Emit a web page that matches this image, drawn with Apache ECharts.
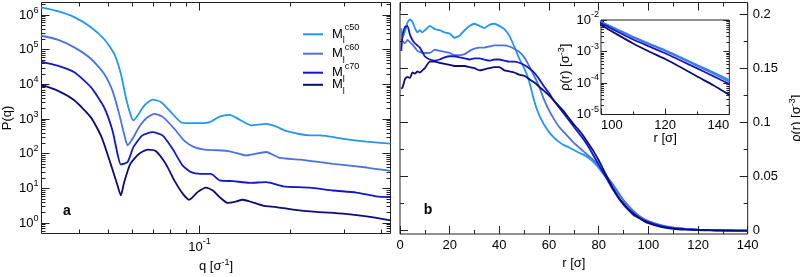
<!DOCTYPE html>
<html><head><meta charset="utf-8">
<script src="https://cdn.jsdelivr.net/npm/echarts@6/dist/echarts.min.js"></script>
<style>html,body{margin:0;padding:0;background:#fff}#c{width:800px;height:277px}</style>
</head><body><div id="c"></div>
<script>
const FONT = "'Liberation Sans', Arial, Helvetica, sans-serif";
const AX = '#222';

// ---------------- panel a : P(q) ----------------
const qC50 = [0.0299,0.0339,0.0385,0.0437,0.0483,0.0522,0.0549,0.0570,0.0590,0.0604,0.0624,0.0656,0.0699,0.0745,0.0804,0.0867,0.0936,0.100,0.108,0.1165,0.1257,0.1357,0.148,0.166,0.1795,0.194,0.2315,0.25,0.2985,0.357,0.428];
const pC50 = [1.66e6,1.29e6,8.7e5,4.47e5,2.04e5,7.6e4,2.04e4,4270,1410,912,1260,2450,3630,3090,1580,813,759,759,813,1175,1318,955,661,724,603,447,339,339,269,224,195];
const qC60 = [0.0299,0.0339,0.0385,0.0437,0.0483,0.0515,0.0542,0.0566,0.0578,0.0600,0.0631,0.0664,0.0708,0.0754,0.0825,0.0889,0.096,0.1036,0.1147,0.1257,0.1428,0.166,0.184,0.2143,0.2764,0.357,0.428];
const pC60 = [2.57e5,1.95e5,1.17e5,5.5e4,2.04e4,6600,1410,302,174,269,589,1020,1410,1175,525,240,155,132,126,117,89,112,76,68,51,40,32];
const qC70 = [0.0299,0.0339,0.0385,0.0437,0.0483,0.0515,0.0535,0.0549,0.0578,0.0604,0.0647,0.0699,0.0754,0.0814,0.0878,0.0936,0.101,0.109,0.1165,0.129,0.1464,0.166,0.1887,0.2315,0.2764,0.33,0.384,0.428];
const pC70 = [4.57e4,3.47e4,2.24e4,8300,2190,468,100,49,58,155,339,417,339,138,46,29.5,26.3,26.3,17,16.2,14.5,15.1,11.5,10.5,8.7,7.6,5.9,5.6];
const qMl = [0.0299,0.0339,0.0385,0.0437,0.0474,0.0508,0.0535,0.0549,0.0563,0.059,0.0631,0.0673,0.0716,0.0773,0.0825,0.0878,0.0924,0.0985,0.105,0.1107,0.1165,0.124,0.1306,0.139,0.148,0.162,0.1795,0.2037,0.2435,0.2985,0.357,0.428];
const pMl = [9800,6600,3470,1120,302,51,12.3,6.3,15.1,51,100,132,120,51,17,7.2,4.7,7.8,10.5,8.7,5.6,3.8,4.1,4.7,4.1,3.2,2.9,2.45,2.1,1.86,1.55,1.2];

// ---------------- panel b : rho(r) ----------------
const rB = [0.5,1,2,3,4,5,6,7,8,9,10,12,14,16,18,20,22,24,26,28,30,32,34,36,38,40,42,44,46,48,50,52,54,56,58,60,62,64,66,68,70,72,74,76,78,80,82,84,86,88,90,92,94,96,98,100,105,110,115,120,125,130,135,140];
const rhoC50 = [0.187,0.178,0.184,0.192,0.195,0.193,0.187,0.183,0.185,0.183,0.185,
  0.189,0.186,0.185,0.183,0.182,0.178,0.180,0.185,0.189,0.191,0.189,0.187,0.190,0.191,0.189,0.186,0.180,0.170,0.159,
  0.150,0.138,0.120,0.107,0.098,0.091,0.086,0.082,0.079,0.077,0.0745,0.072,0.070,0.067,0.063,0.058,0.052,0.046,0.040,0.034,0.028,0.023,0.018,0.014,0.011,0.0088,
  0.0051,0.0029,0.0018,0.0011,0.00064,0.00037,0.00022,0.000125];
const rhoC60 = [0.177,0.175,0.173,0.176,0.174,0.172,0.169,0.166,0.165,0.164,0.164,
  0.164,0.167,0.166,0.165,0.164,0.162,0.162,0.163,0.166,0.168,0.169,0.169,0.170,0.171,0.171,0.171,0.170,0.168,0.165,
  0.160,0.152,0.143,0.133,0.121,0.111,0.103,0.096,0.091,0.086,0.081,0.077,0.073,0.069,0.065,0.060,0.054,0.048,0.042,0.035,0.028,0.0225,0.018,0.014,0.011,0.0086,
  0.0049,0.0028,0.0017,0.00105,0.00061,0.00035,0.0002,0.00011];
const rhoC70 = [0.166,0.180,0.188,0.189,0.181,0.176,0.173,0.171,0.169,0.165,0.161,
  0.158,0.157,0.158,0.160,0.161,0.161,0.160,0.159,0.158,0.159,0.159,0.158,0.157,0.158,0.158,0.157,0.156,0.156,0.155,
  0.153,0.150,0.146,0.140,0.133,0.127,0.120,0.114,0.108,0.102,0.096,0.090,0.084,0.077,0.069,0.061,0.053,0.045,0.037,0.030,0.024,0.019,0.0145,0.012,0.0098,0.0079,
  0.0043,0.0024,0.00145,0.00088,0.00051,0.00029,0.000165,0.000093];
const rhoMl = [0.131,0.132,0.140,0.142,0.141,0.146,0.145,0.147,0.146,0.148,0.150,
  0.156,0.156,0.155,0.154,0.153,0.152,0.152,0.152,0.151,0.150,0.148,0.149,0.150,0.151,0.151,0.148,0.147,0.146,0.144,
  0.143,0.140,0.137,0.133,0.129,0.125,0.120,0.115,0.110,0.104,0.098,0.093,0.087,0.080,0.073,0.065,0.056,0.047,0.038,0.031,0.025,0.020,0.016,0.0125,0.0093,0.0069,
  0.0035,0.0018,0.0010,0.00058,0.00031,0.00016,0.000085,0.000042];

const names = ['Mc50', 'Mc60', 'Mc70', 'Ml'];
const supText = { Mc50: 'c50', Mc60: 'c60', Mc70: 'c70', Ml: '' };
const colors = ['#2196f3', '#4a72e4', '#1218c8', '#0c0c78'];
const bTicks = [0, 0.05, 0.1, 0.15, 0.2];
const bMinor = [0.025, 0.075, 0.125, 0.175];

const zip = (a, b) => a.map((v, i) => [v, b[i]]);
const lg = Math.log10;
function majorLog(lo, hi) { const o = []; for (let e = Math.ceil(lo - 1e-9); e <= Math.floor(hi + 1e-9); e++) o.push(e); return o; }
function minorLog(lo, hi) { const o = []; for (let e = Math.floor(lo) - 1; e <= Math.ceil(hi); e++) for (let k = 2; k <= 9; k++) { const v = e + lg(k); if (v > lo + 1e-9 && v < hi - 1e-9) o.push(v); } return o; }

const supRich = {
  b: { fontSize: 13, fontFamily: FONT, color: '#000', lineHeight: 19 },
  s: { fontSize: 9, fontFamily: FONT, color: '#000', lineHeight: 10, verticalAlign: 'top' }
};
function powLabel(v) {
  const l = lg(v), e = Math.round(l);
  if (Math.abs(l - e) > 1e-6) return '';
  return '{b|10}{s|' + e + '}';
}
const nameRich = {
  a: { fontSize: 13, fontFamily: FONT, color: '#000', lineHeight: 17 },
  s: { fontSize: 9, fontFamily: FONT, color: '#000', lineHeight: 10, verticalAlign: 'top' }
};

function tickAxis(grid, pos, min, max, values, len) {
  return {
    type: 'value', gridIndex: grid, position: pos, min: min, max: max, silent: true,
    axisLine: { show: false, onZero: false }, splitLine: { show: false }, axisLabel: { show: false },
    minorTick: { show: false },
    axisTick: { show: true, inside: true, length: len, customValues: values, lineStyle: { color: AX, width: 1 } }
  };
}

// ranges (layout)
const aX = [lg(0.03), lg(0.428)], aY = [lg(0.5), lg(2.3e6)], iY = [-5, -2];

const xAxis = [
  { type: 'log', gridIndex: 0, min: 0.03, max: 0.428, position: 'bottom',
    axisLine: { show: false, onZero: false }, axisTick: { show: false }, splitLine: { show: false }, minorTick: { show: false },
    axisLabel: { formatter: powLabel, rich: supRich, margin: 4, interval: 0 },
    name: '{a|q [σ}{s|-1}{a|]}', nameLocation: 'middle', nameGap: 22, nameTextStyle: { rich: nameRich } },
  tickAxis(0, 'bottom', aX[0], aX[1], majorLog(aX[0], aX[1]), 8),
  tickAxis(0, 'bottom', aX[0], aX[1], minorLog(aX[0], aX[1]), 4),
  tickAxis(0, 'top', aX[0], aX[1], majorLog(aX[0], aX[1]), 8),
  tickAxis(0, 'top', aX[0], aX[1], minorLog(aX[0], aX[1]), 4),
  { type: 'value', gridIndex: 1, min: 0, max: 140, interval: 20, position: 'bottom',
    axisLine: { show: false, onZero: false }, splitLine: { show: false },
    axisTick: { inside: true, length: 8, lineStyle: { color: AX } },
    minorTick: { show: true, splitNumber: 2, length: 4, lineStyle: { color: AX } },
    axisLabel: { fontSize: 13, fontFamily: FONT, color: '#000', margin: 5 },
    name: 'r [σ]', nameLocation: 'middle', nameGap: 20, nameTextStyle: { fontSize: 13, fontFamily: FONT, color: '#000' } },
  { type: 'value', gridIndex: 1, min: 0, max: 140, interval: 20, position: 'top',
    axisLine: { show: false, onZero: false }, splitLine: { show: false }, axisLabel: { show: false },
    axisTick: { inside: true, length: 8, lineStyle: { color: AX } },
    minorTick: { show: true, splitNumber: 2, length: 4, lineStyle: { color: AX } } },
  { type: 'value', gridIndex: 2, min: 100, max: 140, interval: 20, position: 'bottom',
    axisLine: { show: false, onZero: false }, splitLine: { show: false },
    axisTick: { inside: true, length: 6, lineStyle: { color: AX } },
    minorTick: { show: true, splitNumber: 2, length: 3, lineStyle: { color: AX } },
    axisLabel: { fontSize: 13, fontFamily: FONT, color: '#000', margin: 4, alignMinLabel: 'left', alignMaxLabel: 'right' },
    name: 'r [σ]', nameLocation: 'middle', nameGap: 17, nameTextStyle: { fontSize: 13, fontFamily: FONT, color: '#000' } }
];

const yAxis = [
  { type: 'log', gridIndex: 0, min: 0.5, max: 2.3e6, position: 'left',
    axisLine: { show: false, onZero: false }, axisTick: { show: false }, splitLine: { show: false }, minorTick: { show: false },
    axisLabel: { formatter: powLabel, rich: supRich, margin: 3, interval: 0 },
    name: 'P(q)', nameLocation: 'middle', nameGap: 28, nameRotate: 90,
    nameTextStyle: { fontSize: 13, fontFamily: FONT, color: '#000' } },
  tickAxis(0, 'left', aY[0], aY[1], majorLog(aY[0], aY[1]), 8),
  tickAxis(0, 'left', aY[0], aY[1], minorLog(aY[0], aY[1]), 4),
  tickAxis(0, 'right', aY[0], aY[1], majorLog(aY[0], aY[1]), 8),
  tickAxis(0, 'right', aY[0], aY[1], minorLog(aY[0], aY[1]), 4),
  { type: 'value', gridIndex: 1, min: -0.003, max: 0.2106, position: 'right',
    axisLine: { show: false, onZero: false }, splitLine: { show: false }, minorTick: { show: false },
    axisTick: { inside: true, length: 8, customValues: bTicks, lineStyle: { color: AX } },
    axisLabel: { customValues: bTicks, fontSize: 13, fontFamily: FONT, color: '#000', margin: 5 },
    name: '{a|ρ(r) [σ}{s|-3}{a|]}', nameLocation: 'middle', nameGap: 40, nameRotate: 90, nameTextStyle: { rich: nameRich } },
  tickAxis(1, 'right', -0.003, 0.2106, bMinor, 4),
  tickAxis(1, 'left', -0.003, 0.2106, bTicks, 8),
  tickAxis(1, 'left', -0.003, 0.2106, bMinor, 4),
  { type: 'log', gridIndex: 2, min: 1e-5, max: 1e-2, position: 'left',
    axisLine: { show: false, onZero: false }, axisTick: { show: false }, splitLine: { show: false }, minorTick: { show: false },
    axisLabel: { formatter: powLabel, rich: supRich, margin: 2, interval: 0 },
    name: '{a|ρ(r) [σ}{s|-3}{a|]}', nameLocation: 'middle', nameGap: 27, nameRotate: 90, nameTextStyle: { rich: nameRich } },
  tickAxis(2, 'left', iY[0], iY[1], majorLog(iY[0], iY[1]), 6),
  tickAxis(2, 'left', iY[0], iY[1], minorLog(iY[0], iY[1]), 3),
  tickAxis(2, 'right', iY[0], iY[1], majorLog(iY[0], iY[1]), 6),
  tickAxis(2, 'right', iY[0], iY[1], minorLog(iY[0], iY[1]), 3)
];

const aData = [zip(qC50, pC50), zip(qC60, pC60), zip(qC70, pC70), zip(qMl, pMl)];
const bData = [zip(rB, rhoC50), zip(rB, rhoC60), zip(rB, rhoC70), zip(rB, rhoMl)];

const series = [];
names.forEach((n, i) => {
  const base = { type: 'line', name: n, symbol: 'none', showSymbol: false, animation: false,
    lineStyle: { width: 1.8, color: colors[i] }, itemStyle: { color: colors[i] } };
  series.push(Object.assign({}, base, { xAxisIndex: 0, yAxisIndex: 0, data: aData[i], smooth: 0.2 }));
  series.push(Object.assign({}, base, { xAxisIndex: 5, yAxisIndex: 5, data: bData[i], smooth: 0.15 }));
  series.push(Object.assign({}, base, { xAxisIndex: 7, yAxisIndex: 9, data: bData[i], smooth: 0.15, clip: true }));
});

const legendTops = [23.3, 42.7, 61.7, 78.3];
const legend = names.map((n, i) => ({
  data: [n], left: 303, top: legendTops[i], orient: 'vertical', padding: 0, itemGap: 0,
  itemWidth: 20, itemHeight: 2, icon: 'rect', selectedMode: false,
  formatter: name => '{m|M}{sub|l}' + (supText[name] ? '{sup|' + supText[name] + '}' : ''),
  textStyle: { rich: {
    m: { fontSize: 13, fontFamily: FONT, color: '#000', lineHeight: 22, padding: [0, 0, 0, 4] },
    sub: { fontSize: 9, fontFamily: FONT, color: '#000', lineHeight: 11, verticalAlign: 'bottom' },
    sup: { fontSize: 9, fontFamily: FONT, color: '#000', lineHeight: 11, verticalAlign: 'top' }
  } }
}));

const chart = echarts.init(document.getElementById('c'), null, { renderer: 'canvas' });
chart.setOption({
  animation: false,
  backgroundColor: '#fff',
  grid: [
    { left: 41.5, top: 2.5, width: 349, height: 231, show: true, borderColor: AX, borderWidth: 1, containLabel: false, outerBoundsMode: 'none' },
    { left: 400, top: 2.5, width: 347.7, height: 231.5, show: true, borderColor: AX, borderWidth: 1, containLabel: false, outerBoundsMode: 'none' },
    { left: 601, top: 20, width: 128.3, height: 94.5, show: true, borderColor: AX, borderWidth: 1, backgroundColor: '#fff', containLabel: false, outerBoundsMode: 'none' }
  ],
  xAxis: xAxis,
  yAxis: yAxis,
  legend: legend,
  series: series,
  graphic: [
    { type: 'text', x: 67, y: 211, style: { text: 'a', font: 'bold 14px ' + FONT, fill: '#000', align: 'center', verticalAlign: 'middle' } },
    { type: 'text', x: 428, y: 210, style: { text: 'b', font: 'bold 14px ' + FONT, fill: '#000', align: 'center', verticalAlign: 'middle' } }
  ]
});
</script></body></html>
